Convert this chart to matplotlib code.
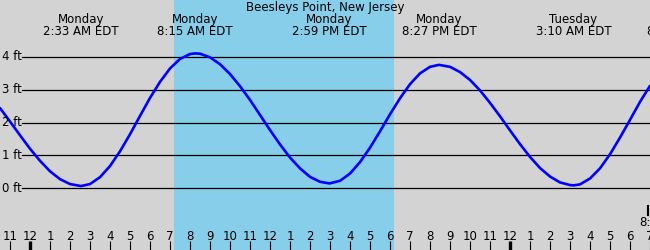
import numpy as np
import matplotlib
matplotlib.use('Agg')
import matplotlib.pyplot as plt
import matplotlib.transforms as mtransforms

# hours from Monday 00:00 EDT
hours = [-1.5, -1.0, -0.5, 0.0, 0.5, 1.0, 1.5, 2.0, 2.55, 3.0, 3.5, 4.0, 4.5, 5.0,
         5.5, 6.0, 6.5, 7.0, 7.5, 8.0, 8.25, 8.5, 9.0, 9.5, 10.0, 10.5, 11.0, 11.5,
         12.0, 12.5, 13.0, 13.5, 14.0, 14.5, 14.98, 15.5, 16.0, 16.5, 17.0, 17.5,
         18.0, 18.5, 19.0, 19.5, 20.0, 20.45, 21.0, 21.5, 22.0, 22.5, 23.0, 23.5,
         24.0, 24.5, 25.0, 25.5, 26.0, 26.5, 27.0, 27.17, 27.5, 28.0, 28.5, 29.0,
         29.5, 30.0, 30.5, 31.0]
height_ft = [2.44, 2.03, 1.61, 1.20, 0.83, 0.51, 0.27, 0.12, 0.06, 0.12, 0.33, 0.67,
             1.12, 1.64, 2.20, 2.75, 3.24, 3.65, 3.94, 4.09, 4.11, 4.10, 3.99, 3.78,
             3.48, 3.11, 2.69, 2.23, 1.77, 1.33, 0.93, 0.60, 0.34, 0.19, 0.14, 0.22,
             0.44, 0.79, 1.23, 1.73, 2.25, 2.74, 3.17, 3.50, 3.70, 3.76, 3.70, 3.54,
             3.30, 2.98, 2.60, 2.19, 1.76, 1.34, 0.95, 0.61, 0.35, 0.17, 0.09, 0.08,
             0.11, 0.29, 0.60, 1.03, 1.54, 2.08, 2.63, 3.12]

event_hours = [2.55, 8.25, 14.98, 20.45, 27.17, 32.75]
event_days = ['Monday', 'Monday', 'Monday', 'Monday', 'Tuesday', 'Tuesday']
event_times = ['2:33 AM EDT', '8:15 AM EDT', '2:59 PM EDT', '8:27 PM EDT',
               '3:10 AM EDT', '8:45 AM EDT']

daylight = (7.2, 18.2)
ft_levels = [0, 1, 2, 3, 4]
tick_hours = list(range(-1, 32))
tick_labels = ['11', '12', '1', '2', '3', '4', '5', '6', '7', '8', '9', '10', '11',
               '12', '1', '2', '3', '4', '5', '6', '7', '8', '9', '10', '11',
               '12', '1', '2', '3', '4', '5', '6', '7']

fig = plt.figure(figsize=(6.5, 2.5), dpi=100)
fig.patch.set_facecolor('#d3d3d3')
ax = fig.add_axes([0, 0, 1, 1])
ax.set_facecolor('#d3d3d3')
ax.set_xlim(-1.5, 31.0)
ax.set_ylim(-62 / 32.75, 188 / 32.75)
ax.axis('off')

ax.axvspan(daylight[0], daylight[1], color='#87ceeb', lw=0)

# pixel helpers: x in data, y in axes fraction
trans = mtransforms.blended_transform_factory(ax.transData, ax.transAxes)
px_x = -1.5 + 22 / 20.0

for lv in ft_levels:
    ax.plot([px_x, 31.0], [lv, lv], color='black', lw=0.9)
    ax.text(-1.5 + 2 / 20.0, lv, '%d ft' % lv, ha='left', va='center', fontsize=8.5)

ax.plot(hours, height_ft, color='#0000ff', lw=1.9, solid_capstyle='round')

ax.text(0.5, 1 - 8 / 250, 'Beesleys Point, New Jersey', transform=ax.transAxes,
        ha='center', va='center', fontsize=8.5)

for h, d, t in zip(event_hours, event_days, event_times):
    ax.text(h, 1 - 19.5 / 250, d, transform=trans, ha='center', va='center', fontsize=8.5)
    ax.text(h, 1 - 31.5 / 250, t, transform=trans, ha='center', va='center', fontsize=8.5)

for h, lab in zip(tick_hours, tick_labels):
    lw = 2.4 if lab == '12' and h % 24 == 0 else 0.8
    ax.plot([h, h], [9 / 250, 0], transform=trans, color='black', lw=lw,
            solid_capstyle='butt', clip_on=False)
    ax.text(h, 1 - 236 / 250, lab, transform=trans, ha='center', va='center', fontsize=8.5)

# partial label at right edge
ax.text(31.0 - 11 / 20.0, 1 - 223 / 250, '8:', transform=trans, ha='left', va='center',
        fontsize=8.5)
ax.plot([31.0 - 2 / 20.0, 31.0 - 2 / 20.0], [1 - 206 / 250, 1 - 215 / 250],
        transform=trans, color='black', lw=1.5)

fig.savefig('out.png', dpi=100, facecolor=fig.get_facecolor())
